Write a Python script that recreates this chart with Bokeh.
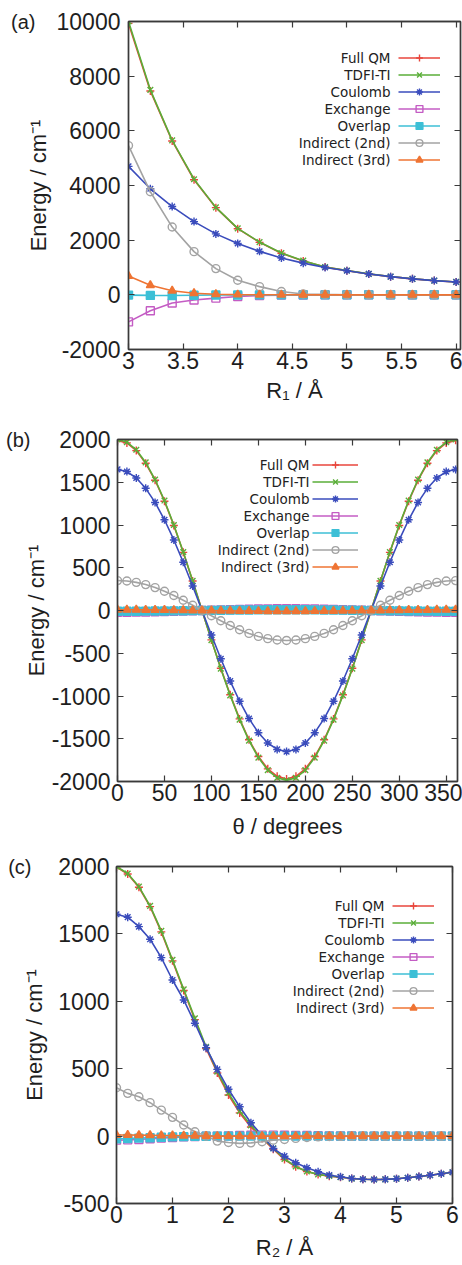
from bokeh.plotting import figure
from bokeh.layouts import column
from bokeh.models import Range1d, LinearAxis, Label, Legend, LegendItem, FixedTicker
from bokeh.embed import file_html
from bokeh.resources import INLINE

# ---------------- data ----------------
series_names = ["Full QM", "TDFI-TI", "Coulomb", "Exchange", "Overlap",
                "Indirect (2nd)", "Indirect (3rd)"]

# panel (a): energy vs R1 / Angstrom
r1 = [3.0, 3.2, 3.4, 3.6, 3.8, 4.0, 4.2, 4.4, 4.6, 4.8, 5.0, 5.2, 5.4, 5.6, 5.8, 6.0]
a_full_qm = [9930, 7460, 5630, 4210, 3190, 2420, 1920, 1520, 1240, 1015, 885, 765, 665, 584, 520, 470]
a_tdfi_ti = [10000, 7500, 5650, 4230, 3200, 2430, 1930, 1530, 1250, 1020, 890, 768, 668, 586, 522, 472]
a_coulomb = [4700, 3880, 3230, 2680, 2230, 1880, 1590, 1350, 1160, 1000, 880, 765, 665, 584, 520, 470]
a_exchange = [-990, -580, -300, -190, -120, -60, -25, -10, -4, -2, -1, 0, 0, 0, 0, 0]
a_overlap = [-10, -20, -25, -15, -8, -4, -2, -1, 0, 0, 0, 0, 0, 0, 0, 0]
a_indirect2 = [5460, 3770, 2480, 1580, 960, 535, 300, 120, 30, 15, 5, 2, 1, 0, 0, 0]
a_indirect3 = [690, 350, 150, 60, 20, 8, 3, 1, 0, 0, 0, 0, 0, 0, 0, 0]

# panel (b): energy vs theta / degrees
theta = [0, 10, 20, 30, 40, 50, 60, 70, 80, 90, 100, 110, 120, 130, 140, 150, 160, 170, 180,
         190, 200, 210, 220, 230, 240, 250, 260, 270, 280, 290, 300, 310, 320, 330, 340, 350, 360]
b_full_qm = [1990, 1960, 1870, 1722, 1524, 1278, 994, 680, 345, 0, -344, -676, -986, -1268, -1512, -1708, -1852, -1940, -1970,
             -1940, -1852, -1708, -1512, -1268, -986, -676, -344, 0, 345, 680, 994, 1278, 1524, 1722, 1870, 1960, 1990]
b_tdfi_ti = [2000, 1970, 1880, 1732, 1532, 1286, 1000, 684, 347, 0, -346, -680, -993, -1277, -1522, -1720, -1867, -1957, -1987,
             -1957, -1867, -1720, -1522, -1277, -993, -680, -346, 0, 347, 684, 1000, 1286, 1532, 1732, 1880, 1970, 2000]
b_coulomb = [1650, 1625, 1550, 1429, 1264, 1061, 825, 564, 287, 0, -287, -564, -825, -1061, -1264, -1429, -1550, -1625, -1650,
             -1625, -1550, -1429, -1264, -1061, -825, -564, -287, 0, 287, 564, 825, 1061, 1264, 1429, 1550, 1625, 1650]
b_exchange = [-20, -20, -19, -17, -15, -13, -10, -7, -3, 0, 3, 7, 10, 13, 15, 17, 19, 20, 20,
              20, 19, 17, 15, 13, 10, 7, 3, 0, -3, -7, -10, -13, -15, -17, -19, -20, -20]
b_overlap = [-8, -8, -8, -7, -6, -5, -4, -3, -1, 0, 1, 3, 4, 5, 6, 7, 8, 8, 8,
             8, 8, 7, 6, 5, 4, 3, 1, 0, -1, -3, -4, -5, -6, -7, -8, -8, -8]
b_indirect2 = [350, 345, 329, 303, 268, 225, 175, 120, 61, 0, -61, -120, -175, -225, -268, -303, -329, -345, -350,
               -345, -329, -303, -268, -225, -175, -120, -61, 0, 61, 120, 175, 225, 268, 303, 329, 345, 350]
b_indirect3 = [8, 8, 8, 7, 6, 5, 4, 3, 1, 0, -1, -3, -4, -5, -6, -7, -8, -8, -8,
               -8, -8, -7, -6, -5, -4, -3, -1, 0, 1, 3, 4, 5, 6, 7, 8, 8, 8]

# panel (c): energy vs R2 / Angstrom
r2 = [0.0, 0.2, 0.4, 0.6, 0.8, 1.0, 1.2, 1.4, 1.6, 1.8, 2.0, 2.2, 2.4, 2.6, 2.8, 3.0,
      3.2, 3.4, 3.6, 3.8, 4.0, 4.2, 4.4, 4.6, 4.8, 5.0, 5.2, 5.4, 5.6, 5.8, 6.0]
c_full_qm = [1996, 1944, 1846, 1702, 1515, 1300, 1080, 864, 650, 468, 305, 172, 68, -18, -97, -174,
             -228, -263, -285, -297, -305, -315, -320, -322, -321, -316, -309, -300, -290, -279, -268]
c_tdfi_ti = [2000, 1948, 1851, 1708, 1522, 1307, 1089, 874, 663, 478, 320, 185, 80, -10, -90, -170,
             -225, -262, -284, -296, -304, -315, -320, -322, -321, -316, -309, -300, -290, -279, -268]
c_coulomb = [1646, 1624, 1554, 1460, 1324, 1158, 1010, 837, 656, 495, 347, 218, 99, 5, -92, -149,
             -198, -235, -265, -290, -302, -314, -320, -322, -321, -316, -309, -300, -290, -279, -268]
c_exchange = [-30, -28, -25, -20, -15, -10, -6, -3, -1, 0, 2, 4, 6, 7, 7, 6,
              5, 4, 3, 2, 1, 1, 0, 0, 0, 0, 0, 0, 0, 0, 0]
c_overlap = [-20, -18, -15, -12, -9, -6, -4, -2, -1, 0, 0, 0, 0, 0, 0, 0,
             0, 0, 0, 0, 0, 0, 0, 0, 0, 0, 0, 0, 0, 0, 0]
c_indirect2 = [359, 317, 292, 248, 193, 139, 82, 32, 0, -37, -47, -54, -50, -42, -30, -25,
               -17, -10, -6, -3, -2, -1, 0, 0, 0, 0, 0, 0, 0, 0, 0]
c_indirect3 = [8, 8, 7, 6, 5, 4, 3, 2, 1, 0, 0, 0, 0, 0, 0, 0,
               0, 0, 0, 0, 0, 0, 0, 0, 0, 0, 0, 0, 0, 0, 0]

a_ticks_x = [3, 3.5, 4, 4.5, 5, 5.5, 6]
a_ticks_y = [-2000, 0, 2000, 4000, 6000, 8000, 10000]
b_ticks_x = [0, 50, 100, 150, 200, 250, 300, 350]
b_ticks_y = [-2000, -1500, -1000, -500, 0, 500, 1000, 1500, 2000]
c_ticks_x = [0, 1, 2, 3, 4, 5, 6]
c_ticks_y = [-500, 0, 500, 1000, 1500, 2000]

# ---------------- style ----------------
colors = ["#e8463c", "#5aae38", "#3a4cbc", "#c45cc4", "#3cbfd6", "#a3a3a3", "#ef7433"]
markers = ["cross", "x", "asterisk", "square", "square", "circle", "triangle"]
filled = [False, False, False, False, True, False, True]

FONT = "Liberation Sans"
AX = "#3a3a3a"
TXT = "#1e1e1e"
W = 462


def make_panel(x, ys, xr, yr, xt, yt, xlabel, tag, geo):
    p = figure(width=W, height=geo["h"], output_backend="svg", toolbar_location=None,
               x_range=Range1d(*xr), y_range=Range1d(*yr), frame_align=False,
               min_border_left=geo["l"], min_border_right=geo["r"],
               min_border_top=geo["t"], min_border_bottom=geo["b"],
               background_fill_color="white", border_fill_color="white")
    p.xgrid.visible = False
    p.ygrid.visible = False
    p.outline_line_color = AX
    p.outline_line_width = 1.4

    for ax, ticks in ((p.xaxis[0], xt), (p.yaxis[0], yt)):
        ax.ticker = FixedTicker(ticks=ticks)
        ax.major_label_overrides = {t: str(t) for t in ticks if t < 0}  # plain hyphen minus
        ax.major_tick_in = 6
        ax.major_tick_out = 0
        ax.minor_tick_line_color = None
        ax.axis_line_color = AX
        ax.axis_line_width = 1.4
        ax.major_tick_line_color = AX
        ax.major_tick_line_width = 1.2
        ax.major_label_text_font = FONT
        ax.major_label_text_font_size = "23px"
        ax.major_label_text_color = TXT
        ax.axis_label_text_font = FONT
        ax.axis_label_text_font_size = "22px"
        ax.axis_label_text_font_style = "normal"
        ax.axis_label_text_color = TXT
    p.xaxis[0].axis_label = xlabel
    p.xaxis[0].major_label_standoff = geo["xls"]
    p.xaxis[0].axis_label_standoff = geo["xas"]
    p.yaxis[0].axis_label = "Energy / cm\u207b\u00b9"
    p.yaxis[0].major_label_standoff = geo["yls"]
    p.yaxis[0].axis_label_standoff = geo["yas"]

    # panel tag "(a)" etc.: an unlined outer left axis labelling only the top tick
    tag_axis = LinearAxis(ticker=FixedTicker(ticks=[yr[1]]), major_label_overrides={yr[1]: tag},
                          axis_line_color=None, major_tick_line_color=None, minor_tick_line_color=None,
                          major_tick_in=0, major_tick_out=0, major_label_standoff=geo["tagso"],
                          major_label_text_font=FONT, major_label_text_font_size="20px",
                          major_label_text_color=TXT)
    p.add_layout(tag_axis, "left")

    # mirrored tick marks on top and right (gnuplot style)
    for side, ticks in (("above", xt), ("right", yt)):
        m = LinearAxis(ticker=FixedTicker(ticks=ticks), major_tick_in=6, major_tick_out=0,
                       minor_tick_line_color=None, axis_line_color=AX, axis_line_width=1.4,
                       major_tick_line_color=AX, major_tick_line_width=1.2,
                       major_label_text_font_size="1px", major_label_text_alpha=0,
                       major_label_standoff=0)
        p.add_layout(m, side)

    items = []
    for name, yv, col, mk, fl in zip(series_names, ys, colors, markers, filled):
        lr = p.line(x, yv, line_color=col, line_width=1.6)
        sr = p.scatter(x, yv, marker=mk, size=8, line_color=col, line_width=1.4,
                       fill_color=col if fl else None)
        items.append(LegendItem(label=" ", renderers=[lr, sr]))

    leg = Legend(items=items, location=(geo["lx"], geo["ly"]), padding=0, margin=0, spacing=0,
                 glyph_width=geo["gw"], glyph_height=17, label_height=17, label_width=0,
                 label_standoff=0, label_text_font_size="13px",
                 background_fill_alpha=0, border_line_alpha=0)
    p.add_layout(leg)

    # legend texts, right aligned left of the samples (gnuplot key layout)
    top_rel = geo["ly"] + 7 * 17
    for i, name in enumerate(series_names):
        p.add_layout(Label(x=geo["tx"], y=top_rel - 8.5 - 17 * i, x_units="screen", y_units="screen",
                           text=name, text_align="right", text_baseline="middle",
                           text_font="DejaVu Sans", text_font_size="13.5px", text_color="#222222"))
    return p


pa = make_panel(r1, [a_full_qm, a_tdfi_ti, a_coulomb, a_exchange, a_overlap, a_indirect2, a_indirect3],
                (3, 6.04), (-2000, 10000), a_ticks_x, a_ticks_y, "R\u2081 / \u00c5", "(a)",
                dict(h=415, l=128, r=2, t=21, b=66, xls=2, xas=6, yls=8, yas=3, tagso=-13,
                     lx=270, ly=181, gw=42, tx=262))
pb = make_panel(theta, [b_full_qm, b_tdfi_ti, b_coulomb, b_exchange, b_overlap, b_indirect2, b_indirect3],
                (0, 362), (-2000, 2000), b_ticks_x, b_ticks_y, "\u03b8 / degrees", "(b)",
                dict(h=427, l=117, r=5, t=24, b=61, xls=2, xas=10, yls=7, yas=0, tagso=-10,
                     lx=195, ly=206, gw=46, tx=192))
pc = make_panel(r2, [c_full_qm, c_tdfi_ti, c_coulomb, c_exchange, c_overlap, c_indirect2, c_indirect3],
                (0, 6), (-500, 2000), c_ticks_x, c_ticks_y, "R\u2082 / \u00c5", "(c)",
                dict(h=423, l=116, r=10, t=24, b=62, xls=2, xas=9, yls=7, yas=8, tagso=-12,
                     lx=276, ly=187, gw=42, tx=268))

layout = column(pa, pb, pc, spacing=0)
open("out.html", "w").write(file_html(layout, INLINE))
